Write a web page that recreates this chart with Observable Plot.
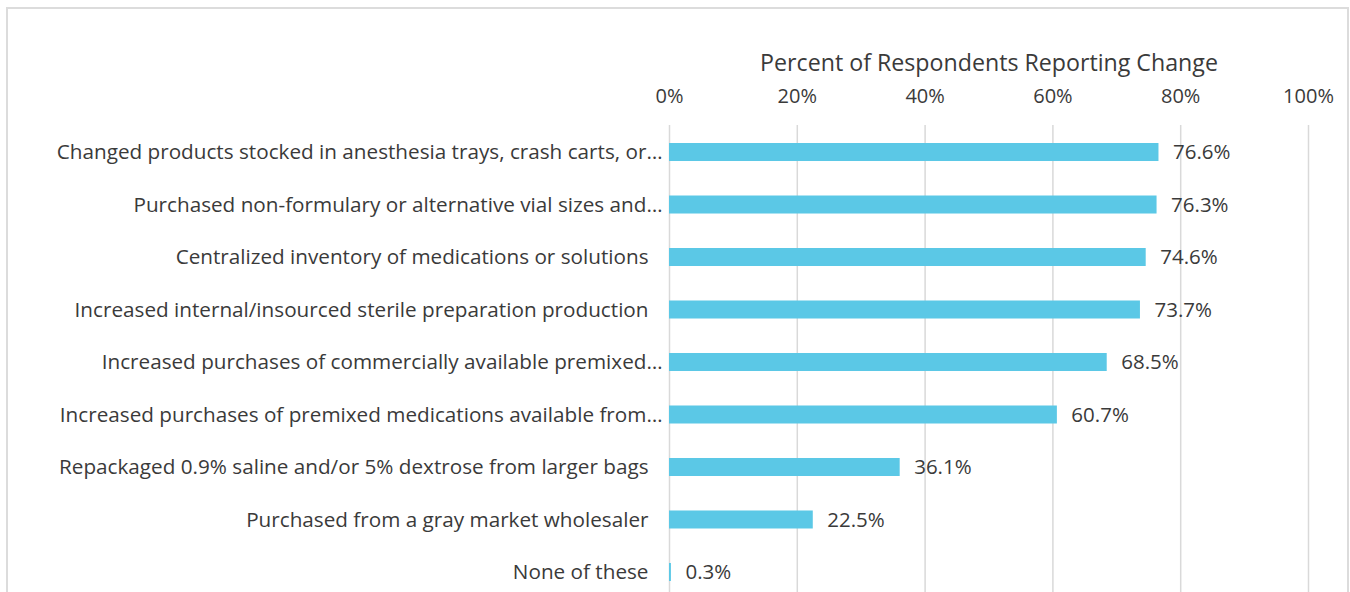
<!DOCTYPE html>
<html>
<head>
<meta charset="utf-8">
<script src="https://cdn.jsdelivr.net/npm/d3@7"></script>
<script src="https://cdn.jsdelivr.net/npm/@observablehq/plot@0.6"></script>
<style>
  html, body { margin: 0; padding: 0; background: #fff; overflow: hidden; }
  #wrap { position: relative; width: 1350px; height: 592px; }
  #frame { position: absolute; left: 6px; top: 7px; width: 1343px; height: 700px; border: 2px solid #dcdcdc; box-sizing: border-box; }
  #chart { position: absolute; left: 0; top: 0; }
  svg text { font-family: "Open Sans", Lato, sans-serif; }
</style>
</head>
<body>
<div id="wrap">
  <div id="frame"></div>
  <div id="chart"></div>
</div>
<script>
const categories = [
  "Changed products stocked in anesthesia trays, crash carts, or…",
  "Purchased non-formulary or alternative vial sizes and…",
  "Centralized inventory of medications or solutions",
  "Increased internal/insourced sterile preparation production",
  "Increased purchases of commercially available premixed…",
  "Increased purchases of premixed medications available from…",
  "Repackaged 0.9% saline and/or 5% dextrose from larger bags",
  "Purchased from a gray market wholesaler",
  "None of these"
];
const values = [76.6, 76.3, 74.6, 73.7, 68.5, 60.7, 36.1, 22.5, 0.3];
const xTicks = [0, 20, 40, 60, 80, 100];
const axisTitle = "Percent of Respondents Reporting Change";

const data = categories.map((c, i) => ({label: c, value: values[i], truncated: c.endsWith("…")}));
const ink = "#3a3a3a";

const chart = Plot.plot({
  width: 1350,
  height: 610,
  marginLeft: 669,
  marginRight: 42,
  marginTop: 125,
  marginBottom: 11,
  style: {fontFamily: "'Open Sans', Lato, sans-serif", fontSize: "20px", color: ink, background: "transparent"},
  x: {domain: [0, 100]},
  y: {domain: categories, paddingInner: 0.657, paddingOuter: 0.343, round: false, axis: null},
  marks: [
    Plot.ruleX(xTicks, {stroke: "#d9d9d9", strokeWidth: 1.5}),
    Plot.axisX(xTicks, {anchor: "top", tickSize: 0, tickPadding: 23, tickFormat: d => d + "%", fontSize: 20, fill: ink, label: null}),
    Plot.text([axisTitle], {frameAnchor: "top", dy: -62, fontSize: 23.2, fill: ink, lineAnchor: "middle"}),
    Plot.barX(data, {x: "value", y: "label", fill: "#5BC8E6"}),
    Plot.text(data.filter(d => !d.truncated), {x: 0, y: "label", text: "label", textAnchor: "end", dx: -21, fontSize: 20.7, fill: ink}),
    Plot.text(data.filter(d => d.truncated), {x: 0, y: "label", text: "label", textAnchor: "end", dx: -7, fontSize: 20.7, fill: ink}),
    Plot.text(data, {x: "value", y: "label", text: d => d.value.toFixed(1) + "%", textAnchor: "start", dx: 14, fontSize: 20.5, fill: ink})
  ]
});
document.getElementById("chart").appendChild(chart);
</script>
</body>
</html>
